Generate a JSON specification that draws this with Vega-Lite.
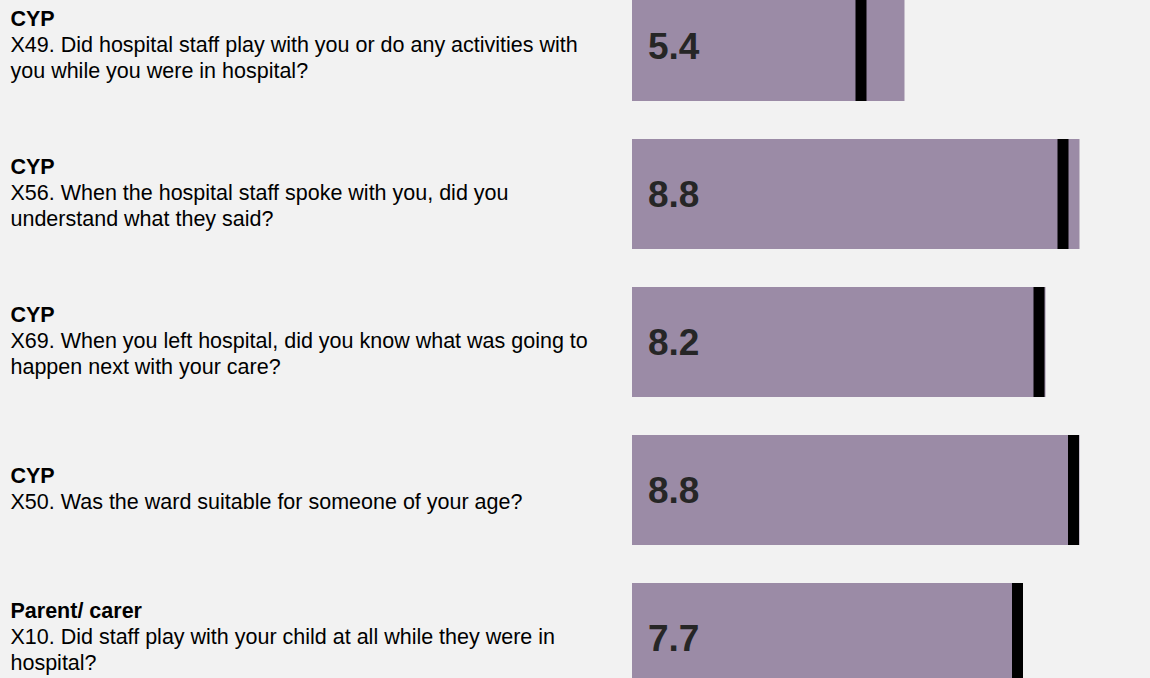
{
  "$schema": "https://vega.github.io/schema/vega-lite/v6.json",
  "width": 518,
  "height": 678,
  "autosize": {"type": "none"},
  "padding": {"left": 632, "top": 0, "right": 0, "bottom": 0},
  "background": "#f2f2f2",
  "config": {
    "view": {"stroke": null},
    "font": "Liberation Sans",
    "axis": {"domain": false, "ticks": false, "tickSize": 0, "grid": false, "title": null}
  },
  "data": {
    "values": [
      {"group": "CYP", "question": "X49. Did hospital staff play with you or do any activities with\nyou while you were in hospital?", "score": 5.4, "upper": 5.45, "marker": 4.58},
      {"group": "CYP", "question": "X56. When the hospital staff spoke with you, did you\nunderstand what they said?", "score": 8.8, "upper": 8.95, "marker": 8.62},
      {"group": "CYP", "question": "X69. When you left hospital, did you know what was going to\nhappen next with your care?", "score": 8.2, "upper": 8.27, "marker": 8.14},
      {"group": "CYP", "question": "X50. Was the ward suitable for someone of your age?", "score": 8.8, "upper": 8.95, "marker": 8.83},
      {"group": "Parent/ carer", "question": "X10. Did staff play with your child at all while they were in\nhospital?", "score": 7.7, "upper": 7.82, "marker": 7.71}
    ]
  },
  "transform": [{"calculate": "datum.group + '\\n' + datum.question", "as": "label"}],
  "layer": [
    {
      "mark": {"type": "bar", "color": "#9b8ba6"},
      "encoding": {
        "x": {"field": "upper", "type": "quantitative", "scale": {"domain": [0, 10.36], "nice": false, "zero": true}, "axis": null},
        "y": {
          "field": "label", "type": "nominal", "sort": null,
          "scale": {"range": [-28, 712], "paddingInner": 0.257, "paddingOuter": 0.1285},
          "axis": {
            "orient": "left",
            "labelExpr": "split(replace(datum.value, regexp('^[^\\n]*'), ''), '\\n')",
            "labelAlign": "left",
            "labelBaseline": "middle",
            "labelPadding": 622,
            "labelOffset": {"condition": {"test": "length(split(datum.value, '\\n')) > 2", "value": -26}, "value": -13},
            "labelFontSize": 21.5,
            "labelLineHeight": 26,
            "labelColor": "#000000",
            "labelLimit": 0,
            "labelOverlap": false,
            "labelBound": false
          }
        }
      }
    },
    {
      "mark": {"type": "tick", "color": "#000000", "thickness": 11, "size": 110, "opacity": 1},
      "encoding": {
        "x": {"field": "marker", "type": "quantitative", "scale": {"domain": [0, 10.36], "nice": false, "zero": true}, "axis": null},
        "y": {
          "field": "label", "type": "nominal", "sort": null,
          "axis": {
            "orient": "left",
            "labelExpr": "split(replace(datum.value, regexp('\\n[^\\n]*', 'g'), '\\n'), '\\n')",
            "labelAlign": "left",
            "labelBaseline": "middle",
            "labelPadding": 622,
            "labelOffset": {"condition": {"test": "length(split(datum.value, '\\n')) > 2", "value": -26}, "value": -13},
            "labelFontSize": 21.5,
            "labelFontWeight": "bold",
            "labelLineHeight": 26,
            "labelColor": "#000000",
            "labelLimit": 0,
            "labelOverlap": false,
            "labelBound": false
          }
        }
      }
    },
    {
      "mark": {"type": "text", "align": "left", "baseline": "middle", "dx": 16, "dy": 2, "fontSize": 37, "fontWeight": "bold", "color": "#262626"},
      "encoding": {
        "x": {"datum": 0, "type": "quantitative", "scale": {"domain": [0, 10.36], "nice": false, "zero": true}, "axis": null},
        "y": {"field": "label", "type": "nominal", "sort": null, "axis": null},
        "text": {"field": "score", "type": "quantitative", "format": ".1f"}
      }
    }
  ],
  "resolve": {"axis": {"y": "independent"}}
}
